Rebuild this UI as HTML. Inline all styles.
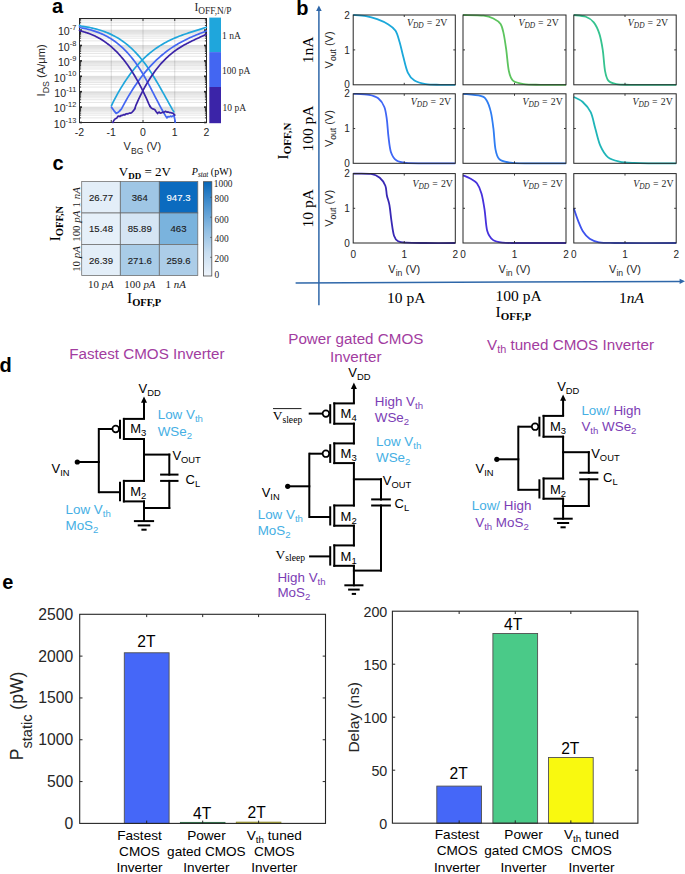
<!DOCTYPE html><html><head><meta charset="utf-8"><style>html,body{margin:0;padding:0;background:#fff;width:685px;height:874px;overflow:hidden}svg{display:block}</style></head><body><svg width="685" height="874" viewBox="0 0 685 874"><rect width="685" height="874" fill="#fff"/><text x="52" y="12.7" font-family="Liberation Sans" font-size="20" text-anchor="start" fill="#000" font-weight="bold">a</text>
<g stroke="#000" stroke-opacity="0.13" stroke-width="0.8">
<line x1="79.5" y1="122.5" x2="206.5" y2="122.5"/>
<line x1="79.5" y1="117.86" x2="206.5" y2="117.86"/>
<line x1="79.5" y1="115.15" x2="206.5" y2="115.15"/>
<line x1="79.5" y1="113.23" x2="206.5" y2="113.23"/>
<line x1="79.5" y1="111.74" x2="206.5" y2="111.74"/>
<line x1="79.5" y1="110.52" x2="206.5" y2="110.52"/>
<line x1="79.5" y1="109.49" x2="206.5" y2="109.49"/>
<line x1="79.5" y1="108.59" x2="206.5" y2="108.59"/>
<line x1="79.5" y1="107.8" x2="206.5" y2="107.8"/>
<line x1="79.5" y1="107.1" x2="206.5" y2="107.1"/>
<line x1="79.5" y1="102.46" x2="206.5" y2="102.46"/>
<line x1="79.5" y1="99.75" x2="206.5" y2="99.75"/>
<line x1="79.5" y1="97.83" x2="206.5" y2="97.83"/>
<line x1="79.5" y1="96.34" x2="206.5" y2="96.34"/>
<line x1="79.5" y1="95.12" x2="206.5" y2="95.12"/>
<line x1="79.5" y1="94.09" x2="206.5" y2="94.09"/>
<line x1="79.5" y1="93.19" x2="206.5" y2="93.19"/>
<line x1="79.5" y1="92.4" x2="206.5" y2="92.4"/>
<line x1="79.5" y1="91.7" x2="206.5" y2="91.7"/>
<line x1="79.5" y1="87.06" x2="206.5" y2="87.06"/>
<line x1="79.5" y1="84.35" x2="206.5" y2="84.35"/>
<line x1="79.5" y1="82.43" x2="206.5" y2="82.43"/>
<line x1="79.5" y1="80.94" x2="206.5" y2="80.94"/>
<line x1="79.5" y1="79.72" x2="206.5" y2="79.72"/>
<line x1="79.5" y1="78.69" x2="206.5" y2="78.69"/>
<line x1="79.5" y1="77.79" x2="206.5" y2="77.79"/>
<line x1="79.5" y1="77" x2="206.5" y2="77"/>
<line x1="79.5" y1="76.3" x2="206.5" y2="76.3"/>
<line x1="79.5" y1="71.66" x2="206.5" y2="71.66"/>
<line x1="79.5" y1="68.95" x2="206.5" y2="68.95"/>
<line x1="79.5" y1="67.03" x2="206.5" y2="67.03"/>
<line x1="79.5" y1="65.54" x2="206.5" y2="65.54"/>
<line x1="79.5" y1="64.32" x2="206.5" y2="64.32"/>
<line x1="79.5" y1="63.29" x2="206.5" y2="63.29"/>
<line x1="79.5" y1="62.39" x2="206.5" y2="62.39"/>
<line x1="79.5" y1="61.6" x2="206.5" y2="61.6"/>
<line x1="79.5" y1="60.9" x2="206.5" y2="60.9"/>
<line x1="79.5" y1="56.26" x2="206.5" y2="56.26"/>
<line x1="79.5" y1="53.55" x2="206.5" y2="53.55"/>
<line x1="79.5" y1="51.63" x2="206.5" y2="51.63"/>
<line x1="79.5" y1="50.14" x2="206.5" y2="50.14"/>
<line x1="79.5" y1="48.92" x2="206.5" y2="48.92"/>
<line x1="79.5" y1="47.89" x2="206.5" y2="47.89"/>
<line x1="79.5" y1="46.99" x2="206.5" y2="46.99"/>
<line x1="79.5" y1="46.2" x2="206.5" y2="46.2"/>
<line x1="79.5" y1="45.5" x2="206.5" y2="45.5"/>
<line x1="79.5" y1="40.86" x2="206.5" y2="40.86"/>
<line x1="79.5" y1="38.15" x2="206.5" y2="38.15"/>
<line x1="79.5" y1="36.23" x2="206.5" y2="36.23"/>
<line x1="79.5" y1="34.74" x2="206.5" y2="34.74"/>
<line x1="79.5" y1="33.52" x2="206.5" y2="33.52"/>
<line x1="79.5" y1="32.49" x2="206.5" y2="32.49"/>
<line x1="79.5" y1="31.59" x2="206.5" y2="31.59"/>
<line x1="79.5" y1="30.8" x2="206.5" y2="30.8"/>
<line x1="79.5" y1="30.1" x2="206.5" y2="30.1"/>
<line x1="79.5" y1="25.46" x2="206.5" y2="25.46"/>
<line x1="79.5" y1="22.75" x2="206.5" y2="22.75"/>
<line x1="79.5" y1="20.83" x2="206.5" y2="20.83"/>
<line x1="79.5" y1="19.34" x2="206.5" y2="19.34"/>
</g>
<line x1="111.25" y1="18.5" x2="111.25" y2="122.5" stroke="#000" stroke-width="0.7" stroke-opacity="0.18"/>
<line x1="143" y1="18.5" x2="143" y2="122.5" stroke="#000" stroke-width="0.7" stroke-opacity="0.18"/>
<line x1="174.75" y1="18.5" x2="174.75" y2="122.5" stroke="#000" stroke-width="0.7" stroke-opacity="0.18"/>
<g stroke="#262626" stroke-width="0.9">
<line x1="79.5" y1="122.5" x2="82" y2="122.5" stroke-width="1.6"/>
<line x1="206.5" y1="122.5" x2="204" y2="122.5" stroke-width="1.6"/>
<line x1="79.5" y1="117.86" x2="81.1" y2="117.86"/>
<line x1="206.5" y1="117.86" x2="204.9" y2="117.86"/>
<line x1="79.5" y1="115.15" x2="81.1" y2="115.15"/>
<line x1="206.5" y1="115.15" x2="204.9" y2="115.15"/>
<line x1="79.5" y1="113.23" x2="81.1" y2="113.23"/>
<line x1="206.5" y1="113.23" x2="204.9" y2="113.23"/>
<line x1="79.5" y1="111.74" x2="81.1" y2="111.74"/>
<line x1="206.5" y1="111.74" x2="204.9" y2="111.74"/>
<line x1="79.5" y1="110.52" x2="81.1" y2="110.52"/>
<line x1="206.5" y1="110.52" x2="204.9" y2="110.52"/>
<line x1="79.5" y1="109.49" x2="81.1" y2="109.49"/>
<line x1="206.5" y1="109.49" x2="204.9" y2="109.49"/>
<line x1="79.5" y1="108.59" x2="81.1" y2="108.59"/>
<line x1="206.5" y1="108.59" x2="204.9" y2="108.59"/>
<line x1="79.5" y1="107.8" x2="81.1" y2="107.8"/>
<line x1="206.5" y1="107.8" x2="204.9" y2="107.8"/>
<line x1="79.5" y1="107.1" x2="82" y2="107.1" stroke-width="1.6"/>
<line x1="206.5" y1="107.1" x2="204" y2="107.1" stroke-width="1.6"/>
<line x1="79.5" y1="102.46" x2="81.1" y2="102.46"/>
<line x1="206.5" y1="102.46" x2="204.9" y2="102.46"/>
<line x1="79.5" y1="99.75" x2="81.1" y2="99.75"/>
<line x1="206.5" y1="99.75" x2="204.9" y2="99.75"/>
<line x1="79.5" y1="97.83" x2="81.1" y2="97.83"/>
<line x1="206.5" y1="97.83" x2="204.9" y2="97.83"/>
<line x1="79.5" y1="96.34" x2="81.1" y2="96.34"/>
<line x1="206.5" y1="96.34" x2="204.9" y2="96.34"/>
<line x1="79.5" y1="95.12" x2="81.1" y2="95.12"/>
<line x1="206.5" y1="95.12" x2="204.9" y2="95.12"/>
<line x1="79.5" y1="94.09" x2="81.1" y2="94.09"/>
<line x1="206.5" y1="94.09" x2="204.9" y2="94.09"/>
<line x1="79.5" y1="93.19" x2="81.1" y2="93.19"/>
<line x1="206.5" y1="93.19" x2="204.9" y2="93.19"/>
<line x1="79.5" y1="92.4" x2="81.1" y2="92.4"/>
<line x1="206.5" y1="92.4" x2="204.9" y2="92.4"/>
<line x1="79.5" y1="91.7" x2="82" y2="91.7" stroke-width="1.6"/>
<line x1="206.5" y1="91.7" x2="204" y2="91.7" stroke-width="1.6"/>
<line x1="79.5" y1="87.06" x2="81.1" y2="87.06"/>
<line x1="206.5" y1="87.06" x2="204.9" y2="87.06"/>
<line x1="79.5" y1="84.35" x2="81.1" y2="84.35"/>
<line x1="206.5" y1="84.35" x2="204.9" y2="84.35"/>
<line x1="79.5" y1="82.43" x2="81.1" y2="82.43"/>
<line x1="206.5" y1="82.43" x2="204.9" y2="82.43"/>
<line x1="79.5" y1="80.94" x2="81.1" y2="80.94"/>
<line x1="206.5" y1="80.94" x2="204.9" y2="80.94"/>
<line x1="79.5" y1="79.72" x2="81.1" y2="79.72"/>
<line x1="206.5" y1="79.72" x2="204.9" y2="79.72"/>
<line x1="79.5" y1="78.69" x2="81.1" y2="78.69"/>
<line x1="206.5" y1="78.69" x2="204.9" y2="78.69"/>
<line x1="79.5" y1="77.79" x2="81.1" y2="77.79"/>
<line x1="206.5" y1="77.79" x2="204.9" y2="77.79"/>
<line x1="79.5" y1="77" x2="81.1" y2="77"/>
<line x1="206.5" y1="77" x2="204.9" y2="77"/>
<line x1="79.5" y1="76.3" x2="82" y2="76.3" stroke-width="1.6"/>
<line x1="206.5" y1="76.3" x2="204" y2="76.3" stroke-width="1.6"/>
<line x1="79.5" y1="71.66" x2="81.1" y2="71.66"/>
<line x1="206.5" y1="71.66" x2="204.9" y2="71.66"/>
<line x1="79.5" y1="68.95" x2="81.1" y2="68.95"/>
<line x1="206.5" y1="68.95" x2="204.9" y2="68.95"/>
<line x1="79.5" y1="67.03" x2="81.1" y2="67.03"/>
<line x1="206.5" y1="67.03" x2="204.9" y2="67.03"/>
<line x1="79.5" y1="65.54" x2="81.1" y2="65.54"/>
<line x1="206.5" y1="65.54" x2="204.9" y2="65.54"/>
<line x1="79.5" y1="64.32" x2="81.1" y2="64.32"/>
<line x1="206.5" y1="64.32" x2="204.9" y2="64.32"/>
<line x1="79.5" y1="63.29" x2="81.1" y2="63.29"/>
<line x1="206.5" y1="63.29" x2="204.9" y2="63.29"/>
<line x1="79.5" y1="62.39" x2="81.1" y2="62.39"/>
<line x1="206.5" y1="62.39" x2="204.9" y2="62.39"/>
<line x1="79.5" y1="61.6" x2="81.1" y2="61.6"/>
<line x1="206.5" y1="61.6" x2="204.9" y2="61.6"/>
<line x1="79.5" y1="60.9" x2="82" y2="60.9" stroke-width="1.6"/>
<line x1="206.5" y1="60.9" x2="204" y2="60.9" stroke-width="1.6"/>
<line x1="79.5" y1="56.26" x2="81.1" y2="56.26"/>
<line x1="206.5" y1="56.26" x2="204.9" y2="56.26"/>
<line x1="79.5" y1="53.55" x2="81.1" y2="53.55"/>
<line x1="206.5" y1="53.55" x2="204.9" y2="53.55"/>
<line x1="79.5" y1="51.63" x2="81.1" y2="51.63"/>
<line x1="206.5" y1="51.63" x2="204.9" y2="51.63"/>
<line x1="79.5" y1="50.14" x2="81.1" y2="50.14"/>
<line x1="206.5" y1="50.14" x2="204.9" y2="50.14"/>
<line x1="79.5" y1="48.92" x2="81.1" y2="48.92"/>
<line x1="206.5" y1="48.92" x2="204.9" y2="48.92"/>
<line x1="79.5" y1="47.89" x2="81.1" y2="47.89"/>
<line x1="206.5" y1="47.89" x2="204.9" y2="47.89"/>
<line x1="79.5" y1="46.99" x2="81.1" y2="46.99"/>
<line x1="206.5" y1="46.99" x2="204.9" y2="46.99"/>
<line x1="79.5" y1="46.2" x2="81.1" y2="46.2"/>
<line x1="206.5" y1="46.2" x2="204.9" y2="46.2"/>
<line x1="79.5" y1="45.5" x2="82" y2="45.5" stroke-width="1.6"/>
<line x1="206.5" y1="45.5" x2="204" y2="45.5" stroke-width="1.6"/>
<line x1="79.5" y1="40.86" x2="81.1" y2="40.86"/>
<line x1="206.5" y1="40.86" x2="204.9" y2="40.86"/>
<line x1="79.5" y1="38.15" x2="81.1" y2="38.15"/>
<line x1="206.5" y1="38.15" x2="204.9" y2="38.15"/>
<line x1="79.5" y1="36.23" x2="81.1" y2="36.23"/>
<line x1="206.5" y1="36.23" x2="204.9" y2="36.23"/>
<line x1="79.5" y1="34.74" x2="81.1" y2="34.74"/>
<line x1="206.5" y1="34.74" x2="204.9" y2="34.74"/>
<line x1="79.5" y1="33.52" x2="81.1" y2="33.52"/>
<line x1="206.5" y1="33.52" x2="204.9" y2="33.52"/>
<line x1="79.5" y1="32.49" x2="81.1" y2="32.49"/>
<line x1="206.5" y1="32.49" x2="204.9" y2="32.49"/>
<line x1="79.5" y1="31.59" x2="81.1" y2="31.59"/>
<line x1="206.5" y1="31.59" x2="204.9" y2="31.59"/>
<line x1="79.5" y1="30.8" x2="81.1" y2="30.8"/>
<line x1="206.5" y1="30.8" x2="204.9" y2="30.8"/>
<line x1="79.5" y1="30.1" x2="82" y2="30.1" stroke-width="1.6"/>
<line x1="206.5" y1="30.1" x2="204" y2="30.1" stroke-width="1.6"/>
<line x1="79.5" y1="25.46" x2="81.1" y2="25.46"/>
<line x1="206.5" y1="25.46" x2="204.9" y2="25.46"/>
<line x1="79.5" y1="22.75" x2="81.1" y2="22.75"/>
<line x1="206.5" y1="22.75" x2="204.9" y2="22.75"/>
<line x1="79.5" y1="20.83" x2="81.1" y2="20.83"/>
<line x1="206.5" y1="20.83" x2="204.9" y2="20.83"/>
<line x1="79.5" y1="19.34" x2="81.1" y2="19.34"/>
<line x1="206.5" y1="19.34" x2="204.9" y2="19.34"/>
<line x1="111.25" y1="18.5" x2="111.25" y2="21"/>
<line x1="111.25" y1="122.5" x2="111.25" y2="120"/>
<line x1="143" y1="18.5" x2="143" y2="21"/>
<line x1="143" y1="122.5" x2="143" y2="120"/>
<line x1="174.75" y1="18.5" x2="174.75" y2="21"/>
<line x1="174.75" y1="122.5" x2="174.75" y2="120"/>
</g>
<rect x="79.5" y="18.5" width="127" height="104" fill="none" stroke="#262626" stroke-width="1"/>
<text x="76.3" y="127.7" font-family="Liberation Sans" font-size="10.6" text-anchor="end" fill="#262626">10<tspan font-size="7.4" dy="-5.2">-13</tspan></text>
<text x="76.3" y="112.3" font-family="Liberation Sans" font-size="10.6" text-anchor="end" fill="#262626">10<tspan font-size="7.4" dy="-5.2">-12</tspan></text>
<text x="76.3" y="96.9" font-family="Liberation Sans" font-size="10.6" text-anchor="end" fill="#262626">10<tspan font-size="7.4" dy="-5.2">-11</tspan></text>
<text x="76.3" y="81.5" font-family="Liberation Sans" font-size="10.6" text-anchor="end" fill="#262626">10<tspan font-size="7.4" dy="-5.2">-10</tspan></text>
<text x="76.3" y="66.1" font-family="Liberation Sans" font-size="10.6" text-anchor="end" fill="#262626">10<tspan font-size="7.4" dy="-5.2">-9</tspan></text>
<text x="76.3" y="50.7" font-family="Liberation Sans" font-size="10.6" text-anchor="end" fill="#262626">10<tspan font-size="7.4" dy="-5.2">-8</tspan></text>
<text x="76.3" y="35.3" font-family="Liberation Sans" font-size="10.6" text-anchor="end" fill="#262626">10<tspan font-size="7.4" dy="-5.2">-7</tspan></text>
<text x="79.5" y="136" font-family="Liberation Sans" font-size="10.5" text-anchor="middle" fill="#262626">-2</text>
<text x="111.25" y="136" font-family="Liberation Sans" font-size="10.5" text-anchor="middle" fill="#262626">-1</text>
<text x="143" y="136" font-family="Liberation Sans" font-size="10.5" text-anchor="middle" fill="#262626">0</text>
<text x="174.75" y="136" font-family="Liberation Sans" font-size="10.5" text-anchor="middle" fill="#262626">1</text>
<text x="206.5" y="136" font-family="Liberation Sans" font-size="10.5" text-anchor="middle" fill="#262626">2</text>
<text x="123.6" y="149.8" font-family="Liberation Sans" font-size="11" fill="#262626">V<tspan font-size="8.6" dy="3.8">BG</tspan><tspan dy="-3.8"> (V)</tspan></text>
<text transform="translate(44.7,70.3) rotate(-90)" font-family="Liberation Sans" font-size="11.2" text-anchor="middle" fill="#262626">I<tspan font-size="8.8" dy="3.8">DS</tspan><tspan dy="-3.8"> (A/&#956;m)</tspan></text>
<g fill="none" stroke-width="1.7" stroke-linejoin="round" stroke-linecap="round">
<path d="M79.50,25.40 L81.10,26.03 L82.70,26.29 L84.30,26.55 L85.90,26.83 L87.50,27.12 L89.10,27.43 L90.70,27.76 L92.30,28.11 L93.90,28.48 L95.50,28.88 L97.10,29.30 L98.70,29.75 L100.30,30.23 L101.90,30.75 L103.50,31.29 L105.10,31.88 L106.70,32.50 L108.30,33.16 L109.90,33.86 L111.50,34.61 L113.10,35.40 L114.70,36.24 L116.30,37.13 L117.90,38.08 L119.50,39.07 L121.10,40.12 L122.70,41.23 L124.30,42.40 L125.90,43.62 L127.50,44.92 L129.10,46.27 L130.70,47.70 L132.30,49.19 L133.90,50.75 L135.50,52.39 L137.10,54.10 L138.70,55.89 L140.30,57.75 L141.90,59.70 L143.50,61.73 L145.10,63.84 L146.70,66.04 L148.30,68.33 L149.90,70.70 L151.50,73.16 L153.10,75.69 L154.70,78.29 L156.30,80.95 L157.90,83.67 L159.50,86.43 L161.10,89.23 L162.70,92.06 L164.30,94.92 L165.90,97.79 L167.50,100.68 L169.10,103.57 L170.70,106.46 L172.30,109.34 L173.90,111.90" stroke="#1fa6dc"/>
<path d="M111.50,105.70 L113.11,102.09 L114.71,99.02 L116.32,96.04 L117.93,93.16 L119.53,90.37 L121.14,87.68 L122.75,85.08 L124.35,82.57 L125.96,80.14 L127.57,77.80 L129.17,75.55 L130.78,73.37 L132.39,71.27 L133.99,69.25 L135.60,67.31 L137.21,65.44 L138.82,63.64 L140.42,61.92 L142.03,60.25 L143.64,58.66 L145.24,57.13 L146.85,55.66 L148.46,54.25 L150.06,52.90 L151.67,51.61 L153.28,50.37 L154.88,49.18 L156.49,48.04 L158.10,46.95 L159.70,45.91 L161.31,44.91 L162.92,43.96 L164.52,43.04 L166.13,42.17 L167.74,41.33 L169.34,40.53 L170.95,39.76 L172.56,39.02 L174.16,38.31 L175.77,37.62 L177.38,36.97 L178.98,36.33 L180.59,35.72 L182.20,35.13 L183.81,34.55 L185.41,33.99 L187.02,33.44 L188.63,32.91 L190.23,32.39 L191.84,31.87 L193.45,31.36 L195.05,30.85 L196.66,30.35 L198.27,29.84 L199.87,29.34 L201.48,28.83 L203.09,28.32 L204.69,27.79 L206.30,27.40" stroke="#1fa6dc"/>
<path d="M79.50,26.90 L80.98,27.76 L82.46,28.06 L83.94,28.37 L85.43,28.69 L86.91,29.04 L88.39,29.40 L89.87,29.78 L91.35,30.19 L92.83,30.62 L94.31,31.08 L95.79,31.58 L97.28,32.10 L98.76,32.65 L100.24,33.24 L101.72,33.87 L103.20,34.54 L104.68,35.25 L106.16,36.00 L107.65,36.80 L109.13,37.64 L110.61,38.53 L112.09,39.48 L113.57,40.47 L115.05,41.53 L116.53,42.63 L118.02,43.80 L119.50,45.03 L120.98,46.32 L122.46,47.67 L123.94,49.09 L125.42,50.58 L126.90,52.14 L128.38,53.77 L129.87,55.48 L131.35,57.26 L132.83,59.12 L134.31,61.06 L135.79,63.09 L137.27,65.19 L138.75,67.39 L140.24,69.67 L141.72,72.04 L143.20,74.50 L144.68,77.05 L146.16,79.69 L147.64,82.39 L149.12,85.16 L150.61,87.97 L152.09,90.81 L153.57,93.67 L155.05,96.53 L156.53,99.39 L158.01,102.23 L159.49,105.04 L160.97,107.80 L162.46,110.50 L163.94,113.13 L165.42,115.68 L166.90,117.70" stroke="#4366f2"/>
<path d="M166.9,117.7 L168,116.6 L169.3,116.9 L170.5,116.1 L171.6,116.7 L172.8,115.9 L173.9,115.4 L175.1,120.6 L175.2,122.4" stroke="#4366f2"/>
<path d="M119.90,110.70 L121.36,109.13 L122.83,106.34 L124.29,103.63 L125.76,100.99 L127.22,98.42 L128.69,95.91 L130.15,93.48 L131.62,91.11 L133.08,88.81 L134.54,86.57 L136.01,84.40 L137.47,82.29 L138.94,80.24 L140.40,78.25 L141.87,76.32 L143.33,74.44 L144.79,72.62 L146.26,70.86 L147.72,69.15 L149.19,67.49 L150.65,65.89 L152.12,64.33 L153.58,62.82 L155.05,61.36 L156.51,59.95 L157.97,58.59 L159.44,57.26 L160.90,55.98 L162.37,54.75 L163.83,53.55 L165.30,52.39 L166.76,51.27 L168.23,50.19 L169.69,49.14 L171.15,48.13 L172.62,47.15 L174.08,46.20 L175.55,45.29 L177.01,44.40 L178.48,43.55 L179.94,42.72 L181.41,41.91 L182.87,41.14 L184.33,40.38 L185.80,39.65 L187.26,38.94 L188.73,38.25 L190.19,37.58 L191.66,36.92 L193.12,36.29 L194.58,35.67 L196.05,35.06 L197.51,34.47 L198.98,33.88 L200.44,33.31 L201.91,32.75 L203.37,32.20 L204.84,31.65 L206.30,30.90" stroke="#4366f2"/>
<path d="M111.5,107.2 L113.9,110.6 L116.2,113.4 L118.2,112.3 L119.9,110.7" stroke="#4366f2"/>
<path d="M79.50,30.40 L80.69,30.94 L81.89,31.26 L83.08,31.59 L84.28,31.95 L85.47,32.32 L86.67,32.71 L87.86,33.12 L89.06,33.55 L90.25,34.01 L91.45,34.49 L92.64,35.00 L93.84,35.53 L95.03,36.08 L96.23,36.67 L97.42,37.28 L98.62,37.92 L99.81,38.60 L101.01,39.30 L102.20,40.03 L103.40,40.80 L104.59,41.61 L105.79,42.44 L106.98,43.32 L108.18,44.23 L109.37,45.18 L110.57,46.16 L111.76,47.19 L112.96,48.26 L114.15,49.36 L115.35,50.52 L116.54,51.71 L117.74,52.95 L118.93,54.23 L120.13,55.56 L121.32,56.94 L122.52,58.37 L123.71,59.84 L124.91,61.36 L126.10,62.94 L127.30,64.57 L128.49,66.25 L129.69,67.98 L130.88,69.77 L132.08,71.61 L133.27,73.51 L134.47,75.47 L135.66,77.49 L136.86,79.56 L138.05,81.70 L139.25,83.90 L140.44,86.15 L141.64,88.48 L142.83,90.86 L144.03,93.32 L145.22,95.83 L146.42,98.42 L147.61,101.07 L148.81,103.79 L150.00,106.30" stroke="#3b24a8"/>
<path d="M150,106.3 L151.3,108.1 L152.9,108.9 L154.7,109.5 L156.2,111.8 L157.6,113.6 L158.5,112.3 L159.3,112.2 L160.2,113.1 L161.1,113 L162.5,112.2 L163.8,112.4 L165.5,111.3 L166.8,112.1 L168.1,111.9 L169.5,112.6 L171,112.7 L172.3,113.1 L173.4,113.6 L174.8,115.1" stroke="#3b24a8"/>
<path d="M112.9,122.4 L113.8,120.5 L114.9,119.1 L116,118.4 L116.9,117.9 L117.8,116.4 L118.9,116.1 L120,116.6 L120.9,115.4 L122,115.6 L122.9,115.1 L124,114.6 L124.9,114.9 L126,113.9 L126.8,113.7 L128,113.9 L129.2,113.1 L130.5,113.2 L131.8,112.5 L133.3,110.9 L134.8,108.7" stroke="#3b24a8"/>
<path d="M134.80,108.70 L136.01,105.10 L137.22,102.37 L138.44,99.73 L139.65,97.17 L140.86,94.69 L142.07,92.29 L143.28,89.96 L144.49,87.71 L145.71,85.54 L146.92,83.43 L148.13,81.39 L149.34,79.43 L150.55,77.53 L151.77,75.69 L152.98,73.92 L154.19,72.21 L155.40,70.56 L156.61,68.97 L157.83,67.43 L159.04,65.95 L160.25,64.53 L161.46,63.15 L162.67,61.83 L163.88,60.56 L165.10,59.33 L166.31,58.15 L167.52,57.02 L168.73,55.92 L169.94,54.87 L171.16,53.86 L172.37,52.88 L173.58,51.94 L174.79,51.03 L176.00,50.16 L177.22,49.32 L178.43,48.51 L179.64,47.72 L180.85,46.96 L182.06,46.23 L183.27,45.52 L184.49,44.83 L185.70,44.16 L186.91,43.51 L188.12,42.88 L189.33,42.26 L190.55,41.65 L191.76,41.06 L192.97,40.48 L194.18,39.90 L195.39,39.33 L196.61,38.77 L197.82,38.21 L199.03,37.65 L200.24,37.10 L201.45,36.54 L202.66,35.98 L203.88,35.41 L205.09,34.84 L206.30,34.40" stroke="#3b24a8"/>
</g>
<rect x="209.3" y="17.6" width="11.7" height="34.5" fill="#1fa6dc" stroke="none" stroke-width="1"/>
<rect x="209.3" y="52.1" width="11.7" height="34.9" fill="#4366f2" stroke="none" stroke-width="1"/>
<rect x="209.3" y="87" width="11.7" height="36.2" fill="#3b24a8" stroke="none" stroke-width="1"/>
<text x="222" y="38.8" font-family="Liberation Serif" font-size="9.5" fill="#262626">1 nA</text>
<text x="222" y="73.8" font-family="Liberation Serif" font-size="9.5" fill="#262626">100 pA</text>
<text x="222.5" y="110.5" font-family="Liberation Serif" font-size="9.5" fill="#262626">10 pA</text>
<text x="194.5" y="11" font-family="Liberation Serif" font-size="11.5" fill="#262626">I<tspan font-size="9.3" dy="2.6">OFF,N/P</tspan></text>
<text x="296.2" y="14.7" font-family="Liberation Sans" font-size="20" text-anchor="start" fill="#000" font-weight="bold">b</text>
<path d="M353.2,15 C355.33,15.17 361.96,15.35 365.96,16.05 C369.96,16.74 373.45,17.79 377.19,19.19 C380.94,20.58 385.36,22.5 388.42,24.42 C391.49,26.34 393.7,27.74 395.57,30.7 C397.44,33.67 398.38,37.92 399.66,42.22 C400.93,46.53 401.87,51.47 403.23,56.53 C404.59,61.59 405.95,68.57 407.82,72.58 C409.7,76.6 411.48,78.69 414.46,80.61 C417.44,82.53 421.44,83.4 425.69,84.1 C429.95,84.8 435.05,84.68 439.99,84.8 C444.92,84.92 452.75,84.8 455.3,84.8" fill="none" stroke="#1ba8da" stroke-width="1.8" stroke-linejoin="round"/>
<rect x="353.2" y="15" width="102.1" height="69.8" fill="none" stroke="#262626" stroke-width="1"/>
<g stroke="#262626" stroke-width="0.9">
<line x1="404.25" y1="15" x2="404.25" y2="17"/><line x1="404.25" y1="84.8" x2="404.25" y2="82.8"/>
<line x1="353.2" y1="49.9" x2="355.2" y2="49.9"/><line x1="455.3" y1="49.9" x2="453.3" y2="49.9"/>
</g>
<text x="447.4" y="26.2" font-family="Liberation Serif" font-size="9.8" text-anchor="end" fill="#262626"><tspan font-style="italic">V</tspan><tspan font-size="7.4" dy="1.9" font-style="italic">DD</tspan><tspan dy="-1.9" dx="3">=</tspan><tspan dx="3.2">2V</tspan></text>
<text x="349.8" y="18.6" font-family="Liberation Sans" font-size="10" text-anchor="end" fill="#262626">2</text>
<text x="349.8" y="53.5" font-family="Liberation Sans" font-size="10" text-anchor="end" fill="#262626">1</text>
<text x="349.8" y="88.4" font-family="Liberation Sans" font-size="10" text-anchor="end" fill="#262626">0</text>
<text transform="translate(332.7,49.9) rotate(-90)" font-family="Liberation Sans" font-size="11" text-anchor="middle" fill="#262626">V<tspan font-size="8.6" dy="3.7">out</tspan><tspan dy="-3.7"> (V)</tspan></text>
<path d="M463,15 C466.43,15.12 478.54,15.12 483.6,15.7 C488.66,16.28 490.55,17.09 493.38,18.49 C496.22,19.89 498.88,21.51 500.6,24.07 C502.31,26.63 502.74,29.54 503.69,33.85 C504.63,38.15 505.4,43.73 506.26,49.9 C507.12,56.07 507.72,65.72 508.83,70.84 C509.95,75.96 510.47,78.4 512.96,80.61 C515.44,82.82 519.22,83.4 523.77,84.1 C528.32,84.8 533.21,84.68 540.25,84.8 C547.29,84.92 561.71,84.8 566,84.8" fill="none" stroke="#5cc45e" stroke-width="1.8" stroke-linejoin="round"/>
<rect x="463" y="15" width="103" height="69.8" fill="none" stroke="#262626" stroke-width="1"/>
<g stroke="#262626" stroke-width="0.9">
<line x1="514.5" y1="15" x2="514.5" y2="17"/><line x1="514.5" y1="84.8" x2="514.5" y2="82.8"/>
<line x1="463" y1="49.9" x2="465" y2="49.9"/><line x1="566" y1="49.9" x2="564" y2="49.9"/>
</g>
<text x="558.8" y="26.2" font-family="Liberation Serif" font-size="9.8" text-anchor="end" fill="#262626"><tspan font-style="italic">V</tspan><tspan font-size="7.4" dy="1.9" font-style="italic">DD</tspan><tspan dy="-1.9" dx="3">=</tspan><tspan dx="3.2">2V</tspan></text>
<path d="M573.8,15 C575.81,15.29 582.5,15.52 585.83,16.75 C589.16,17.97 591.51,19.48 593.77,22.33 C596.03,25.18 597.91,29.25 599.4,33.85 C600.89,38.44 601.79,43.73 602.73,49.9 C603.67,56.07 604.09,65.72 605.03,70.84 C605.97,75.96 606.48,78.4 608.36,80.61 C610.24,82.82 612.67,83.4 616.3,84.1 C619.92,84.8 620.14,84.68 630.12,84.8 C640.1,84.92 668.52,84.8 676.2,84.8" fill="none" stroke="#35c38f" stroke-width="1.8" stroke-linejoin="round"/>
<rect x="573.8" y="15" width="102.4" height="69.8" fill="none" stroke="#262626" stroke-width="1"/>
<g stroke="#262626" stroke-width="0.9">
<line x1="625" y1="15" x2="625" y2="17"/><line x1="625" y1="84.8" x2="625" y2="82.8"/>
<line x1="573.8" y1="49.9" x2="575.8" y2="49.9"/><line x1="676.2" y1="49.9" x2="674.2" y2="49.9"/>
</g>
<text x="668.2" y="26.2" font-family="Liberation Serif" font-size="9.8" text-anchor="end" fill="#262626"><tspan font-style="italic">V</tspan><tspan font-size="7.4" dy="1.9" font-style="italic">DD</tspan><tspan dy="-1.9" dx="3">=</tspan><tspan dx="3.2">2V</tspan></text>
<path d="M353.2,93.8 C355.84,93.97 364.86,94.09 369.03,94.84 C373.19,95.6 375.66,96.29 378.21,98.32 C380.77,100.34 382.89,103.41 384.34,107 C385.79,110.6 386.21,115 386.89,119.86 C387.57,124.73 387.74,130.81 388.42,136.19 C389.11,141.58 389.62,148.13 390.98,152.18 C392.34,156.23 394.04,158.72 396.59,160.52 C399.14,162.32 401.61,162.49 406.29,162.95 C410.97,163.42 416.5,163.24 424.67,163.3 C432.84,163.36 450.19,163.3 455.3,163.3" fill="none" stroke="#3f66f5" stroke-width="1.8" stroke-linejoin="round"/>
<rect x="353.2" y="93.8" width="102.1" height="69.5" fill="none" stroke="#262626" stroke-width="1"/>
<g stroke="#262626" stroke-width="0.9">
<line x1="404.25" y1="93.8" x2="404.25" y2="95.8"/><line x1="404.25" y1="163.3" x2="404.25" y2="161.3"/>
<line x1="353.2" y1="128.55" x2="355.2" y2="128.55"/><line x1="455.3" y1="128.55" x2="453.3" y2="128.55"/>
</g>
<text x="451.2" y="105" font-family="Liberation Serif" font-size="9.8" text-anchor="end" fill="#262626"><tspan font-style="italic">V</tspan><tspan font-size="7.4" dy="1.9" font-style="italic">DD</tspan><tspan dy="-1.9" dx="3">=</tspan><tspan dx="3.2">2V</tspan></text>
<text x="349.8" y="97.4" font-family="Liberation Sans" font-size="10" text-anchor="end" fill="#262626">2</text>
<text x="349.8" y="132.15" font-family="Liberation Sans" font-size="10" text-anchor="end" fill="#262626">1</text>
<text x="349.8" y="166.9" font-family="Liberation Sans" font-size="10" text-anchor="end" fill="#262626">0</text>
<text transform="translate(332.7,128.55) rotate(-90)" font-family="Liberation Sans" font-size="11" text-anchor="middle" fill="#262626">V<tspan font-size="8.6" dy="3.7">out</tspan><tspan dy="-3.7"> (V)</tspan></text>
<path d="M463,93.8 C465.92,94.15 476.56,94.78 480.51,95.89 C484.46,96.99 484.97,97.74 486.69,100.4 C488.41,103.07 489.69,107.24 490.81,111.87 C491.93,116.5 492.61,122.01 493.38,128.2 C494.16,134.4 494.5,143.96 495.44,149.05 C496.39,154.15 496.99,156.58 499.05,158.78 C501.11,160.98 503.51,161.5 507.81,162.26 C512.1,163.01 515.1,163.13 524.8,163.3 C534.5,163.47 559.13,163.3 566,163.3" fill="none" stroke="#2f7df2" stroke-width="1.8" stroke-linejoin="round"/>
<rect x="463" y="93.8" width="103" height="69.5" fill="none" stroke="#262626" stroke-width="1"/>
<g stroke="#262626" stroke-width="0.9">
<line x1="514.5" y1="93.8" x2="514.5" y2="95.8"/><line x1="514.5" y1="163.3" x2="514.5" y2="161.3"/>
<line x1="463" y1="128.55" x2="465" y2="128.55"/><line x1="566" y1="128.55" x2="564" y2="128.55"/>
</g>
<text x="562.8" y="105" font-family="Liberation Serif" font-size="9.8" text-anchor="end" fill="#262626"><tspan font-style="italic">V</tspan><tspan font-size="7.4" dy="1.9" font-style="italic">DD</tspan><tspan dy="-1.9" dx="3">=</tspan><tspan dx="3.2">2V</tspan></text>
<path d="M573.8,96.93 C575.25,97.74 579.69,99.24 582.5,101.79 C585.32,104.34 588.56,107.76 590.7,112.22 C592.83,116.68 593.68,122.93 595.3,128.55 C596.93,134.17 598.29,141.12 600.42,145.93 C602.56,150.73 604.95,154.79 608.1,157.39 C611.26,160 615.02,160.64 619.37,161.56 C623.72,162.49 629.01,162.66 634.22,162.95 C639.42,163.24 643.6,163.24 650.6,163.3 C657.6,163.36 671.93,163.3 676.2,163.3" fill="none" stroke="#1fb5b8" stroke-width="1.8" stroke-linejoin="round"/>
<rect x="573.8" y="93.8" width="102.4" height="69.5" fill="none" stroke="#262626" stroke-width="1"/>
<g stroke="#262626" stroke-width="0.9">
<line x1="625" y1="93.8" x2="625" y2="95.8"/><line x1="625" y1="163.3" x2="625" y2="161.3"/>
<line x1="573.8" y1="128.55" x2="575.8" y2="128.55"/><line x1="676.2" y1="128.55" x2="674.2" y2="128.55"/>
</g>
<text x="672.8" y="105" font-family="Liberation Serif" font-size="9.8" text-anchor="end" fill="#262626"><tspan font-style="italic">V</tspan><tspan font-size="7.4" dy="1.9" font-style="italic">DD</tspan><tspan dy="-1.9" dx="3">=</tspan><tspan dx="3.2">2V</tspan></text>
<path d="M353.2,173.6 C356.18,173.66 366.64,173.25 371.07,173.95 C375.49,174.64 377.36,175.8 379.75,177.76 C382.13,179.73 384.17,182.8 385.36,185.75 C386.55,188.69 386.21,192.22 386.89,195.46 C387.57,198.7 388.68,200.9 389.45,205.18 C390.21,209.46 390.72,216.05 391.49,221.14 C392.25,226.23 392.93,232.36 394.04,235.71 C395.15,239.07 396.08,240.11 398.12,241.26 C400.17,242.42 401.87,242.36 406.29,242.65 C410.72,242.94 416.5,242.94 424.67,243 C432.84,243.06 450.19,243 455.3,243" fill="none" stroke="#3828b4" stroke-width="1.8" stroke-linejoin="round"/>
<rect x="353.2" y="173.6" width="102.1" height="69.4" fill="none" stroke="#262626" stroke-width="1"/>
<g stroke="#262626" stroke-width="0.9">
<line x1="404.25" y1="173.6" x2="404.25" y2="175.6"/><line x1="404.25" y1="243" x2="404.25" y2="241"/>
<line x1="353.2" y1="208.3" x2="355.2" y2="208.3"/><line x1="455.3" y1="208.3" x2="453.3" y2="208.3"/>
</g>
<text x="452.9" y="187.2" font-family="Liberation Serif" font-size="9.8" text-anchor="end" fill="#262626"><tspan font-style="italic">V</tspan><tspan font-size="7.4" dy="1.9" font-style="italic">DD</tspan><tspan dy="-1.9" dx="3">=</tspan><tspan dx="3.2">2V</tspan></text>
<text x="349.8" y="177.2" font-family="Liberation Sans" font-size="10" text-anchor="end" fill="#262626">2</text>
<text x="349.8" y="211.9" font-family="Liberation Sans" font-size="10" text-anchor="end" fill="#262626">1</text>
<text x="349.8" y="246.6" font-family="Liberation Sans" font-size="10" text-anchor="end" fill="#262626">0</text>
<text transform="translate(332.7,208.3) rotate(-90)" font-family="Liberation Sans" font-size="11" text-anchor="middle" fill="#262626">V<tspan font-size="8.6" dy="3.7">out</tspan><tspan dy="-3.7"> (V)</tspan></text>
<text x="353.2" y="258" font-family="Liberation Sans" font-size="10" text-anchor="middle" fill="#262626">0</text>
<text x="404.25" y="258" font-family="Liberation Sans" font-size="10" text-anchor="middle" fill="#262626">1</text>
<text x="455.3" y="258" font-family="Liberation Sans" font-size="10" text-anchor="middle" fill="#262626">2</text>
<text x="404.25" y="272.6" font-family="Liberation Sans" font-size="11" text-anchor="middle" fill="#262626">V<tspan font-size="8.6" dy="3.7">in</tspan><tspan dy="-3.7"> (V)</tspan></text>
<path d="M463,175.33 C464.2,175.86 467.89,177.13 470.21,178.46 C472.53,179.79 475.02,180.77 476.9,183.32 C478.79,185.86 480.25,189.27 481.54,193.73 C482.83,198.18 483.69,203.85 484.63,210.03 C485.57,216.22 485.83,225.88 487.2,230.85 C488.58,235.83 490.3,237.91 492.87,239.88 C495.44,241.84 498.19,242.13 502.65,242.65 C507.12,243.17 509.09,242.94 519.65,243 C530.21,243.06 558.27,243 566,243" fill="none" stroke="#4631dc" stroke-width="1.8" stroke-linejoin="round"/>
<rect x="463" y="173.6" width="103" height="69.4" fill="none" stroke="#262626" stroke-width="1"/>
<g stroke="#262626" stroke-width="0.9">
<line x1="514.5" y1="173.6" x2="514.5" y2="175.6"/><line x1="514.5" y1="243" x2="514.5" y2="241"/>
<line x1="463" y1="208.3" x2="465" y2="208.3"/><line x1="566" y1="208.3" x2="564" y2="208.3"/>
</g>
<text x="562.8" y="187.2" font-family="Liberation Serif" font-size="9.8" text-anchor="end" fill="#262626"><tspan font-style="italic">V</tspan><tspan font-size="7.4" dy="1.9" font-style="italic">DD</tspan><tspan dy="-1.9" dx="3">=</tspan><tspan dx="3.2">2V</tspan></text>
<text x="463" y="258" font-family="Liberation Sans" font-size="10" text-anchor="middle" fill="#262626">0</text>
<text x="514.5" y="258" font-family="Liberation Sans" font-size="10" text-anchor="middle" fill="#262626">1</text>
<text x="566" y="258" font-family="Liberation Sans" font-size="10" text-anchor="middle" fill="#262626">2</text>
<text x="514.5" y="272.6" font-family="Liberation Sans" font-size="11" text-anchor="middle" fill="#262626">V<tspan font-size="8.6" dy="3.7">in</tspan><tspan dy="-3.7"> (V)</tspan></text>
<path d="M573.8,208.3 C574.55,210.44 576.74,217.26 578.28,221.14 C579.82,225.01 581.12,228.6 583.02,231.55 C584.91,234.5 587.03,237.04 589.67,238.84 C592.32,240.63 594.71,241.61 598.89,242.31 C603.07,243 601.87,242.88 614.76,243 C627.65,243.12 665.96,243 676.2,243" fill="none" stroke="#3d52ee" stroke-width="1.8" stroke-linejoin="round"/>
<rect x="573.8" y="173.6" width="102.4" height="69.4" fill="none" stroke="#262626" stroke-width="1"/>
<g stroke="#262626" stroke-width="0.9">
<line x1="625" y1="173.6" x2="625" y2="175.6"/><line x1="625" y1="243" x2="625" y2="241"/>
<line x1="573.8" y1="208.3" x2="575.8" y2="208.3"/><line x1="676.2" y1="208.3" x2="674.2" y2="208.3"/>
</g>
<text x="673.6" y="187.2" font-family="Liberation Serif" font-size="9.8" text-anchor="end" fill="#262626"><tspan font-style="italic">V</tspan><tspan font-size="7.4" dy="1.9" font-style="italic">DD</tspan><tspan dy="-1.9" dx="3">=</tspan><tspan dx="3.2">2V</tspan></text>
<text x="573.8" y="258" font-family="Liberation Sans" font-size="10" text-anchor="middle" fill="#262626">0</text>
<text x="625" y="258" font-family="Liberation Sans" font-size="10" text-anchor="middle" fill="#262626">1</text>
<text x="676.2" y="258" font-family="Liberation Sans" font-size="10" text-anchor="middle" fill="#262626">2</text>
<text x="625" y="272.6" font-family="Liberation Sans" font-size="11" text-anchor="middle" fill="#262626">V<tspan font-size="8.6" dy="3.7">in</tspan><tspan dy="-3.7"> (V)</tspan></text>
<text transform="translate(312.8,49.9) rotate(-90)" font-family="Liberation Serif" font-size="15.5" text-anchor="middle" fill="#000">1nA</text>
<text transform="translate(312.8,128.55) rotate(-90)" font-family="Liberation Serif" font-size="15.5" text-anchor="middle" fill="#000">100 pA</text>
<text transform="translate(312.8,208.3) rotate(-90)" font-family="Liberation Serif" font-size="15.5" text-anchor="middle" fill="#000">10 pA</text>
<text transform="translate(287.9,141) rotate(-90)" font-family="Liberation Serif" font-size="15.5" text-anchor="middle" fill="#000">I<tspan font-size="11" dy="3" font-weight="bold">OFF,N</tspan></text>
<line x1="318.9" y1="305.3" x2="318.9" y2="10" stroke="#2e67a9" stroke-width="1.5"/>
<path d="M318.9,5.6 L316.1,11 L321.7,11 Z" fill="#2e67a9"/>
<line x1="295.6" y1="282.9" x2="680" y2="281.4" stroke="#2e67a9" stroke-width="1.5"/>
<path d="M685,281.3 L679.6,278.7 L679.6,284 Z" fill="#2e67a9"/>
<text x="387" y="303" font-family="Liberation Serif" font-size="15.5" text-anchor="start" fill="#000">10 pA</text>
<text x="495.6" y="301" font-family="Liberation Serif" font-size="15.5" text-anchor="start" fill="#000">100 pA</text>
<text x="495.6" y="317" font-family="Liberation Serif" font-size="15.5">I<tspan font-size="11" dy="3" font-weight="bold">OFF,P</tspan></text>
<text x="619" y="302.5" font-family="Liberation Serif" font-size="15.5">1<tspan font-style="italic">nA</tspan></text>
<text x="52.5" y="170.2" font-family="Liberation Sans" font-size="20" text-anchor="start" fill="#000" font-weight="bold">c</text>
<rect x="81.7" y="181.6" width="38.6" height="31.4" fill="#e3eef8" stroke="#6a6a6a" stroke-width="0.75"/>
<text x="101" y="200.8" font-family="Liberation Sans" font-size="9.6" text-anchor="middle" fill="#1a1a1a" stroke="#1a1a1a" stroke-width="0.12">26.77</text>
<rect x="120.3" y="181.6" width="39" height="31.4" fill="#9fc6e5" stroke="#6a6a6a" stroke-width="0.75"/>
<text x="139.8" y="200.8" font-family="Liberation Sans" font-size="9.6" text-anchor="middle" fill="#1a1a1a" stroke="#1a1a1a" stroke-width="0.12">364</text>
<rect x="159.3" y="181.6" width="38.5" height="31.4" fill="#0b6bbf" stroke="#6a6a6a" stroke-width="0.75"/>
<text x="178.55" y="200.8" font-family="Liberation Sans" font-size="9.6" text-anchor="middle" fill="#fff" stroke="#fff" stroke-width="0.12">947.3</text>
<rect x="81.7" y="213" width="38.6" height="31.4" fill="#e6f0f9" stroke="#6a6a6a" stroke-width="0.75"/>
<text x="101" y="232.2" font-family="Liberation Sans" font-size="9.6" text-anchor="middle" fill="#1a1a1a" stroke="#1a1a1a" stroke-width="0.12">15.48</text>
<rect x="120.3" y="213" width="39" height="31.4" fill="#d5e5f4" stroke="#6a6a6a" stroke-width="0.75"/>
<text x="139.8" y="232.2" font-family="Liberation Sans" font-size="9.6" text-anchor="middle" fill="#1a1a1a" stroke="#1a1a1a" stroke-width="0.12">85.89</text>
<rect x="159.3" y="213" width="38.5" height="31.4" fill="#7ab3dd" stroke="#6a6a6a" stroke-width="0.75"/>
<text x="178.55" y="232.2" font-family="Liberation Sans" font-size="9.6" text-anchor="middle" fill="#1a1a1a" stroke="#1a1a1a" stroke-width="0.12">463</text>
<rect x="81.7" y="244.4" width="38.6" height="31.2" fill="#e3eef8" stroke="#6a6a6a" stroke-width="0.75"/>
<text x="101" y="263.5" font-family="Liberation Sans" font-size="9.6" text-anchor="middle" fill="#1a1a1a" stroke="#1a1a1a" stroke-width="0.12">26.39</text>
<rect x="120.3" y="244.4" width="39" height="31.2" fill="#a9cce7" stroke="#6a6a6a" stroke-width="0.75"/>
<text x="139.8" y="263.5" font-family="Liberation Sans" font-size="9.6" text-anchor="middle" fill="#1a1a1a" stroke="#1a1a1a" stroke-width="0.12">271.6</text>
<rect x="159.3" y="244.4" width="38.5" height="31.2" fill="#accde8" stroke="#6a6a6a" stroke-width="0.75"/>
<text x="178.55" y="263.5" font-family="Liberation Sans" font-size="9.6" text-anchor="middle" fill="#1a1a1a" stroke="#1a1a1a" stroke-width="0.12">259.6</text>
<defs><linearGradient id="cbc" x1="0" y1="1" x2="0" y2="0"><stop offset="0" stop-color="#eef4fb"/><stop offset="0.25" stop-color="#c7ddf0"/><stop offset="0.5" stop-color="#8dbce2"/><stop offset="0.75" stop-color="#4b93d0"/><stop offset="1" stop-color="#0766b8"/></linearGradient></defs>
<rect x="203.4" y="181.7" width="8.4" height="94.3" fill="url(#cbc)" stroke="#4d4d4d" stroke-width="0.8"/>
<text x="213.8" y="187.4" font-family="Liberation Serif" font-size="9.4" text-anchor="start" fill="#262626">1000</text>
<text x="214.6" y="201.8" font-family="Liberation Serif" font-size="9.4" text-anchor="start" fill="#262626">800</text>
<text x="214.6" y="222.5" font-family="Liberation Serif" font-size="9.4" text-anchor="start" fill="#262626">600</text>
<text x="214.6" y="241.7" font-family="Liberation Serif" font-size="9.4" text-anchor="start" fill="#262626">400</text>
<text x="214.6" y="262.3" font-family="Liberation Serif" font-size="9.4" text-anchor="start" fill="#262626">200</text>
<text x="214.6" y="278.1" font-family="Liberation Serif" font-size="9.4" text-anchor="start" fill="#262626">0</text>
<line x1="210.2" y1="197.3" x2="211.8" y2="197.3" stroke="#4d4d4d" stroke-width="0.8"/>
<line x1="210.2" y1="217.2" x2="211.8" y2="217.2" stroke="#4d4d4d" stroke-width="0.8"/>
<line x1="210.2" y1="237.4" x2="211.8" y2="237.4" stroke="#4d4d4d" stroke-width="0.8"/>
<line x1="210.2" y1="257.3" x2="211.8" y2="257.3" stroke="#4d4d4d" stroke-width="0.8"/>
<text x="118.8" y="175.7" font-family="Liberation Serif" font-size="13" fill="#000">V<tspan font-size="9" dy="2.8" font-weight="bold">DD</tspan><tspan dy="-2.8"> = 2V</tspan></text>
<text x="191.8" y="174.5" font-family="Liberation Serif" font-size="10" fill="#000"><tspan font-style="italic">P</tspan><tspan font-size="7.2" dy="2" font-style="italic">stat</tspan><tspan dy="-2"> (pW)</tspan></text>
<text transform="translate(79.5,197.3) rotate(-90)" font-family="Liberation Serif" font-size="10.9" text-anchor="middle" fill="#1a1a1a">1 <tspan font-style="italic">nA</tspan></text>
<text transform="translate(79.5,226.2) rotate(-90)" font-family="Liberation Serif" font-size="10.9" text-anchor="middle" fill="#1a1a1a">100 <tspan font-style="italic">pA</tspan></text>
<text transform="translate(79.5,259) rotate(-90)" font-family="Liberation Serif" font-size="10.9" text-anchor="middle" fill="#1a1a1a">10 <tspan font-style="italic">pA</tspan></text>
<text transform="translate(60.1,223.6) rotate(-90)" font-family="Liberation Serif" font-size="15.5" text-anchor="middle" fill="#000">I<tspan font-size="10.5" dy="3" font-weight="bold">OFF,N</tspan></text>
<text x="100.9" y="288.2" font-family="Liberation Serif" font-size="10.9" text-anchor="middle" fill="#1a1a1a">10 <tspan font-style="italic">pA</tspan></text>
<text x="139.9" y="288.2" font-family="Liberation Serif" font-size="10.9" text-anchor="middle" fill="#1a1a1a">100 <tspan font-style="italic">pA</tspan></text>
<text x="175.7" y="288.2" font-family="Liberation Serif" font-size="10.9" text-anchor="middle" fill="#1a1a1a">1 <tspan font-style="italic">nA</tspan></text>
<text x="127" y="302.7" font-family="Liberation Serif" font-size="15.5" fill="#000">I<tspan font-size="10.5" dy="3" font-weight="bold">OFF,P</tspan></text>
<text x="-0.5" y="372.1" font-family="Liberation Sans" font-size="20" text-anchor="start" fill="#000" font-weight="bold">d</text>
<text x="69.2" y="358.6" font-family="Liberation Sans" font-size="15.2" text-anchor="start" fill="#a23c9f">Fastest CMOS Inverter</text>
<line x1="144" y1="418.9" x2="144" y2="401.4" stroke="#000" stroke-width="2"/>
<path d="M144,396.4 L141,402.7 L147,402.7 Z" fill="#000"/>
<line x1="123.9" y1="418.9" x2="144" y2="418.9" stroke="#000" stroke-width="2" stroke-linecap="square"/>
<line x1="123.9" y1="439" x2="144" y2="439" stroke="#000" stroke-width="2" stroke-linecap="square"/>
<line x1="123.9" y1="418.9" x2="123.9" y2="439" stroke="#000" stroke-width="2" stroke-linecap="square"/>
<line x1="120" y1="419.7" x2="120" y2="438.8" stroke="#000" stroke-width="2"/>
<circle cx="115.7" cy="429" r="3.3" fill="#fff" stroke="#000" stroke-width="1.7"/>
<line x1="98.8" y1="429" x2="112.4" y2="429" stroke="#000" stroke-width="2"/>
<text x="130.2" y="433.2" font-family="Liberation Sans" font-size="13" fill="#000">M<tspan font-size="9.5" dy="3">3</tspan></text>
<line x1="123.9" y1="480.9" x2="144" y2="480.9" stroke="#000" stroke-width="2" stroke-linecap="square"/>
<line x1="123.9" y1="501.4" x2="144" y2="501.4" stroke="#000" stroke-width="2" stroke-linecap="square"/>
<line x1="123.9" y1="480.9" x2="123.9" y2="501.4" stroke="#000" stroke-width="2" stroke-linecap="square"/>
<line x1="120" y1="481.7" x2="120" y2="501.2" stroke="#000" stroke-width="2"/>
<line x1="98.8" y1="492.2" x2="120" y2="492.2" stroke="#000" stroke-width="2"/>
<text x="130.2" y="496.4" font-family="Liberation Sans" font-size="13" fill="#000">M<tspan font-size="9.5" dy="3">2</tspan></text>
<line x1="98.8" y1="429" x2="98.8" y2="492.2" stroke="#000" stroke-width="2" stroke-linecap="square"/>
<line x1="144" y1="439" x2="144" y2="480.9" stroke="#000" stroke-width="2" stroke-linecap="square"/>
<line x1="77.3" y1="462" x2="98.8" y2="462" stroke="#000" stroke-width="2" stroke-linecap="square"/>
<circle cx="77.3" cy="462" r="2.6" fill="#000"/>
<line x1="144" y1="454.6" x2="169.3" y2="454.6" stroke="#000" stroke-width="2" stroke-linecap="square"/>
<line x1="169.3" y1="454.6" x2="169.3" y2="474.6" stroke="#000" stroke-width="2" stroke-linecap="square"/>
<line x1="160.1" y1="474.6" x2="178.5" y2="474.6" stroke="#000" stroke-width="2"/>
<line x1="160.1" y1="480.9" x2="178.5" y2="480.9" stroke="#000" stroke-width="2"/>
<line x1="169.3" y1="480.9" x2="169.3" y2="508" stroke="#000" stroke-width="2" stroke-linecap="square"/>
<line x1="169.3" y1="508" x2="144" y2="508" stroke="#000" stroke-width="2" stroke-linecap="square"/>
<line x1="144" y1="501.4" x2="144" y2="521.1" stroke="#000" stroke-width="2" stroke-linecap="square"/>
<line x1="133.9" y1="521.1" x2="154.1" y2="521.1" stroke="#000" stroke-width="2"/>
<line x1="137.7" y1="525.4" x2="150.3" y2="525.4" stroke="#000" stroke-width="2"/>
<line x1="141.4" y1="529.7" x2="146.6" y2="529.7" stroke="#000" stroke-width="2"/>
<text x="138.6" y="392.6" font-family="Liberation Sans" font-size="13" fill="#000" text-anchor="start">V<tspan font-size="9.36" dy="3">DD</tspan></text>
<text x="172.4" y="459.8" font-family="Liberation Sans" font-size="13" fill="#000" text-anchor="start">V<tspan font-size="9.36" dy="3">OUT</tspan></text>
<text x="185.6" y="483.5" font-family="Liberation Sans" font-size="13" fill="#000" text-anchor="start">C<tspan font-size="9.36" dy="3">L</tspan></text>
<text x="51.5" y="473" font-family="Liberation Sans" font-size="13" fill="#000" text-anchor="start">V<tspan font-size="9.36" dy="3">IN</tspan></text>
<text x="157.7" y="418.8" font-family="Liberation Sans" font-size="13.4" fill="#45afe4">Low V<tspan font-size="9.6" dy="3">th</tspan><tspan x="157.7" y="435.5">WSe</tspan><tspan font-size="9.6" dy="3">2</tspan></text>
<text x="65.5" y="513.8" font-family="Liberation Sans" font-size="13.4" fill="#45afe4">Low V<tspan font-size="9.6" dy="3">th</tspan><tspan x="65.5" y="530.3">MoS</tspan><tspan font-size="9.6" dy="3">2</tspan></text>
<text x="288.3" y="343.6" font-family="Liberation Sans" font-size="15.2" text-anchor="start" fill="#a23c9f">Power gated CMOS</text>
<text x="330" y="362.4" font-family="Liberation Sans" font-size="15.2" text-anchor="start" fill="#a23c9f">Inverter</text>
<line x1="353.9" y1="403.4" x2="353.9" y2="387.6" stroke="#000" stroke-width="2"/>
<path d="M353.9,382.6 L350.9,388.9 L356.9,388.9 Z" fill="#000"/>
<line x1="334.3" y1="403.4" x2="353.9" y2="403.4" stroke="#000" stroke-width="2" stroke-linecap="square"/>
<line x1="334.3" y1="423.7" x2="353.9" y2="423.7" stroke="#000" stroke-width="2" stroke-linecap="square"/>
<line x1="334.3" y1="403.4" x2="334.3" y2="423.7" stroke="#000" stroke-width="2" stroke-linecap="square"/>
<line x1="330.2" y1="404.2" x2="330.2" y2="423.5" stroke="#000" stroke-width="2"/>
<circle cx="325.9" cy="413.6" r="3.3" fill="#fff" stroke="#000" stroke-width="1.7"/>
<line x1="308.7" y1="413.6" x2="322.6" y2="413.6" stroke="#000" stroke-width="2"/>
<text x="340.6" y="417.8" font-family="Liberation Sans" font-size="13" fill="#000">M<tspan font-size="9.5" dy="3">4</tspan></text>
<line x1="334.3" y1="443.4" x2="353.9" y2="443.4" stroke="#000" stroke-width="2" stroke-linecap="square"/>
<line x1="334.3" y1="463.1" x2="353.9" y2="463.1" stroke="#000" stroke-width="2" stroke-linecap="square"/>
<line x1="334.3" y1="443.4" x2="334.3" y2="463.1" stroke="#000" stroke-width="2" stroke-linecap="square"/>
<line x1="330.2" y1="444.2" x2="330.2" y2="462.9" stroke="#000" stroke-width="2"/>
<circle cx="325.9" cy="453.7" r="3.3" fill="#fff" stroke="#000" stroke-width="1.7"/>
<line x1="309.3" y1="453.7" x2="322.6" y2="453.7" stroke="#000" stroke-width="2"/>
<text x="340.6" y="457.9" font-family="Liberation Sans" font-size="13" fill="#000">M<tspan font-size="9.5" dy="3">3</tspan></text>
<line x1="334.3" y1="505.5" x2="353.9" y2="505.5" stroke="#000" stroke-width="2" stroke-linecap="square"/>
<line x1="334.3" y1="525.7" x2="353.9" y2="525.7" stroke="#000" stroke-width="2" stroke-linecap="square"/>
<line x1="334.3" y1="505.5" x2="334.3" y2="525.7" stroke="#000" stroke-width="2" stroke-linecap="square"/>
<line x1="330.2" y1="506.3" x2="330.2" y2="525.5" stroke="#000" stroke-width="2"/>
<line x1="309.3" y1="517" x2="330.2" y2="517" stroke="#000" stroke-width="2"/>
<text x="340.6" y="521.2" font-family="Liberation Sans" font-size="13" fill="#000">M<tspan font-size="9.5" dy="3">2</tspan></text>
<line x1="334.3" y1="545.4" x2="353.9" y2="545.4" stroke="#000" stroke-width="2" stroke-linecap="square"/>
<line x1="334.3" y1="565.8" x2="353.9" y2="565.8" stroke="#000" stroke-width="2" stroke-linecap="square"/>
<line x1="334.3" y1="545.4" x2="334.3" y2="565.8" stroke="#000" stroke-width="2" stroke-linecap="square"/>
<line x1="330.2" y1="546.2" x2="330.2" y2="565.6" stroke="#000" stroke-width="2"/>
<line x1="309.1" y1="556.4" x2="330.2" y2="556.4" stroke="#000" stroke-width="2"/>
<text x="340.6" y="560.6" font-family="Liberation Sans" font-size="13" fill="#000">M<tspan font-size="9.5" dy="3">1</tspan></text>
<line x1="309.3" y1="453.7" x2="309.3" y2="517" stroke="#000" stroke-width="2" stroke-linecap="square"/>
<line x1="353.9" y1="423.7" x2="353.9" y2="443.4" stroke="#000" stroke-width="2" stroke-linecap="square"/>
<line x1="353.9" y1="463.1" x2="353.9" y2="505.5" stroke="#000" stroke-width="2" stroke-linecap="square"/>
<line x1="353.9" y1="525.7" x2="353.9" y2="545.4" stroke="#000" stroke-width="2" stroke-linecap="square"/>
<line x1="353.9" y1="565.8" x2="353.9" y2="585.3" stroke="#000" stroke-width="2" stroke-linecap="square"/>
<line x1="287.7" y1="486.3" x2="309.3" y2="486.3" stroke="#000" stroke-width="2" stroke-linecap="square"/>
<circle cx="287.7" cy="486.3" r="2.6" fill="#000"/>
<line x1="353.9" y1="479.3" x2="381" y2="479.3" stroke="#000" stroke-width="2" stroke-linecap="square"/>
<line x1="381" y1="479.3" x2="381" y2="499.4" stroke="#000" stroke-width="2" stroke-linecap="square"/>
<line x1="371.15" y1="499.4" x2="390.85" y2="499.4" stroke="#000" stroke-width="2"/>
<line x1="371.15" y1="505.5" x2="390.85" y2="505.5" stroke="#000" stroke-width="2"/>
<line x1="381" y1="505.5" x2="381" y2="570.6" stroke="#000" stroke-width="2" stroke-linecap="square"/>
<line x1="381" y1="570.6" x2="353.9" y2="570.6" stroke="#000" stroke-width="2" stroke-linecap="square"/>
<line x1="344.35" y1="585.3" x2="363.45" y2="585.3" stroke="#000" stroke-width="2"/>
<line x1="348.1" y1="589.6" x2="359.7" y2="589.6" stroke="#000" stroke-width="2"/>
<line x1="351.75" y1="593.9" x2="356.05" y2="593.9" stroke="#000" stroke-width="2"/>
<text x="348.3" y="377.2" font-family="Liberation Sans" font-size="13" fill="#000" text-anchor="start">V<tspan font-size="9.36" dy="3">DD</tspan></text>
<text x="382.8" y="484.6" font-family="Liberation Sans" font-size="13" fill="#000" text-anchor="start">V<tspan font-size="9.36" dy="3">OUT</tspan></text>
<text x="394.6" y="507.5" font-family="Liberation Sans" font-size="13" fill="#000" text-anchor="start">C<tspan font-size="9.36" dy="3">L</tspan></text>
<text x="261.7" y="496.5" font-family="Liberation Sans" font-size="13" fill="#000" text-anchor="start">V<tspan font-size="9.36" dy="3">IN</tspan></text>
<text x="272.8" y="420.3" font-family="Liberation Serif" font-size="13.4" fill="#000">V<tspan font-size="9.6" dy="2.6">sleep</tspan></text>
<line x1="273" y1="408.6" x2="301.5" y2="408.6" stroke="#000" stroke-width="0.9"/>
<text x="275.6" y="558.6" font-family="Liberation Serif" font-size="13.4" fill="#000">V<tspan font-size="9.6" dy="2.6">sleep</tspan></text>
<text x="374.8" y="405.9" font-family="Liberation Sans" font-size="13.4" fill="#7b3db5">High V<tspan font-size="9.6" dy="3">th</tspan><tspan x="374.8" y="421.7">WSe</tspan><tspan font-size="9.6" dy="3">2</tspan></text>
<text x="376" y="446.3" font-family="Liberation Sans" font-size="13.4" fill="#45afe4">Low V<tspan font-size="9.6" dy="3">th</tspan><tspan x="376" y="462">WSe</tspan><tspan font-size="9.6" dy="3">2</tspan></text>
<text x="257.7" y="519.3" font-family="Liberation Sans" font-size="13.4" fill="#45afe4">Low V<tspan font-size="9.6" dy="3">th</tspan><tspan x="257.7" y="535.2">MoS</tspan><tspan font-size="9.6" dy="3">2</tspan></text>
<text x="277.4" y="581.8" font-family="Liberation Sans" font-size="13.4" fill="#7b3db5">High V<tspan font-size="9.6" dy="3">th</tspan><tspan x="277.4" y="597.2">MoS</tspan><tspan font-size="9.6" dy="3">2</tspan></text>
<text x="487" y="349.7" font-family="Liberation Sans" font-size="15.2" fill="#a23c9f">V<tspan font-size="10.9" dy="3.5">th</tspan><tspan dy="-3.5"> tuned CMOS Inverter</tspan></text>
<line x1="563.1" y1="415.9" x2="563.1" y2="399.4" stroke="#000" stroke-width="2"/>
<path d="M563.1,394.4 L560.1,400.7 L566.1,400.7 Z" fill="#000"/>
<line x1="543.6" y1="415.9" x2="563.1" y2="415.9" stroke="#000" stroke-width="2" stroke-linecap="square"/>
<line x1="543.6" y1="436.7" x2="563.1" y2="436.7" stroke="#000" stroke-width="2" stroke-linecap="square"/>
<line x1="543.6" y1="415.9" x2="543.6" y2="436.7" stroke="#000" stroke-width="2" stroke-linecap="square"/>
<line x1="539.4" y1="416.7" x2="539.4" y2="436.5" stroke="#000" stroke-width="2"/>
<circle cx="535.1" cy="426.7" r="3.3" fill="#fff" stroke="#000" stroke-width="1.7"/>
<line x1="518.3" y1="426.7" x2="531.8" y2="426.7" stroke="#000" stroke-width="2"/>
<text x="549.9" y="430.9" font-family="Liberation Sans" font-size="13" fill="#000">M<tspan font-size="9.5" dy="3">3</tspan></text>
<line x1="543.6" y1="478.5" x2="563.1" y2="478.5" stroke="#000" stroke-width="2" stroke-linecap="square"/>
<line x1="543.6" y1="498.7" x2="563.1" y2="498.7" stroke="#000" stroke-width="2" stroke-linecap="square"/>
<line x1="543.6" y1="478.5" x2="543.6" y2="498.7" stroke="#000" stroke-width="2" stroke-linecap="square"/>
<line x1="539.4" y1="479.3" x2="539.4" y2="498.5" stroke="#000" stroke-width="2"/>
<line x1="518.3" y1="489.8" x2="539.4" y2="489.8" stroke="#000" stroke-width="2"/>
<text x="549.9" y="494" font-family="Liberation Sans" font-size="13" fill="#000">M<tspan font-size="9.5" dy="3">2</tspan></text>
<line x1="518.3" y1="426.7" x2="518.3" y2="489.8" stroke="#000" stroke-width="2" stroke-linecap="square"/>
<line x1="563.1" y1="436.7" x2="563.1" y2="478.5" stroke="#000" stroke-width="2" stroke-linecap="square"/>
<line x1="563.1" y1="498.7" x2="563.1" y2="518.7" stroke="#000" stroke-width="2" stroke-linecap="square"/>
<line x1="496.8" y1="459.3" x2="518.3" y2="459.3" stroke="#000" stroke-width="2" stroke-linecap="square"/>
<circle cx="496.8" cy="459.3" r="2.6" fill="#000"/>
<line x1="563.1" y1="452.2" x2="588.8" y2="452.2" stroke="#000" stroke-width="2" stroke-linecap="square"/>
<line x1="588.8" y1="452.2" x2="588.8" y2="472.7" stroke="#000" stroke-width="2" stroke-linecap="square"/>
<line x1="579.25" y1="472.7" x2="598.35" y2="472.7" stroke="#000" stroke-width="2"/>
<line x1="579.25" y1="479.3" x2="598.35" y2="479.3" stroke="#000" stroke-width="2"/>
<line x1="588.8" y1="479.3" x2="588.8" y2="506" stroke="#000" stroke-width="2" stroke-linecap="square"/>
<line x1="588.8" y1="506" x2="563.1" y2="506" stroke="#000" stroke-width="2" stroke-linecap="square"/>
<line x1="553.5" y1="518.7" x2="572.7" y2="518.7" stroke="#000" stroke-width="2"/>
<line x1="557.05" y1="523" x2="569.15" y2="523" stroke="#000" stroke-width="2"/>
<line x1="560.5" y1="527.3" x2="565.7" y2="527.3" stroke="#000" stroke-width="2"/>
<text x="557.2" y="390.6" font-family="Liberation Sans" font-size="13" fill="#000" text-anchor="start">V<tspan font-size="9.36" dy="3">DD</tspan></text>
<text x="591.2" y="457.5" font-family="Liberation Sans" font-size="13" fill="#000" text-anchor="start">V<tspan font-size="9.36" dy="3">OUT</tspan></text>
<text x="603" y="481.7" font-family="Liberation Sans" font-size="13" fill="#000" text-anchor="start">C<tspan font-size="9.36" dy="3">L</tspan></text>
<text x="475.6" y="472.5" font-family="Liberation Sans" font-size="13" fill="#000" text-anchor="start">V<tspan font-size="9.36" dy="3">IN</tspan></text>
<text x="581.4" y="414.5" font-family="Liberation Sans" font-size="13.4" fill="#7b3db5"><tspan fill="#45afe4">Low/</tspan> High<tspan x="581.4" y="431.4">V</tspan><tspan font-size="9.6" dy="3">th</tspan><tspan dy="-3"> WSe</tspan><tspan font-size="9.6" dy="3">2</tspan></text>
<text x="471.8" y="510" font-family="Liberation Sans" font-size="13.4" fill="#7b3db5"><tspan fill="#45afe4">Low/</tspan> High<tspan x="475.2" y="527.3">V</tspan><tspan font-size="9.6" dy="3">th</tspan><tspan dy="-3"> MoS</tspan><tspan font-size="9.6" dy="3">2</tspan></text>
<text x="2.3" y="588.8" font-family="Liberation Sans" font-size="20" text-anchor="start" fill="#000" font-weight="bold">e</text>
<text x="73.2" y="828.9" font-family="Liberation Sans" font-size="15.7" text-anchor="end" fill="#262626">0</text>
<text x="73.2" y="787.08" font-family="Liberation Sans" font-size="15.7" text-anchor="end" fill="#262626">500</text>
<line x1="79.7" y1="781.58" x2="82.5" y2="781.58" stroke="#262626" stroke-width="1"/>
<line x1="325.5" y1="781.58" x2="322.7" y2="781.58" stroke="#262626" stroke-width="1"/>
<text x="73.2" y="745.26" font-family="Liberation Sans" font-size="15.7" text-anchor="end" fill="#262626">1000</text>
<line x1="79.7" y1="739.76" x2="82.5" y2="739.76" stroke="#262626" stroke-width="1"/>
<line x1="325.5" y1="739.76" x2="322.7" y2="739.76" stroke="#262626" stroke-width="1"/>
<text x="73.2" y="703.44" font-family="Liberation Sans" font-size="15.7" text-anchor="end" fill="#262626">1500</text>
<line x1="79.7" y1="697.94" x2="82.5" y2="697.94" stroke="#262626" stroke-width="1"/>
<line x1="325.5" y1="697.94" x2="322.7" y2="697.94" stroke="#262626" stroke-width="1"/>
<text x="73.2" y="661.62" font-family="Liberation Sans" font-size="15.7" text-anchor="end" fill="#262626">2000</text>
<line x1="79.7" y1="656.12" x2="82.5" y2="656.12" stroke="#262626" stroke-width="1"/>
<line x1="325.5" y1="656.12" x2="322.7" y2="656.12" stroke="#262626" stroke-width="1"/>
<text x="73.2" y="619.8" font-family="Liberation Sans" font-size="15.7" text-anchor="end" fill="#262626">2500</text>
<text x="146.45" y="647" font-family="Liberation Sans" font-size="15.6" text-anchor="middle" fill="#000">2T</text>
<rect x="124.3" y="652.77" width="44.8" height="170.63" fill="#4567f8" stroke="#505050" stroke-width="0.9"/>
<line x1="146.7" y1="823.4" x2="146.7" y2="820.6" stroke="#262626" stroke-width="1"/>
<line x1="146.7" y1="614.3" x2="146.7" y2="617.1" stroke="#262626" stroke-width="1"/>
<text x="202.1" y="819.1" font-family="Liberation Sans" font-size="15.6" text-anchor="middle" fill="#000">4T</text>
<rect x="180.4" y="822.4" width="44.6" height="1" fill="#3e8f5a" stroke="#2f6f4a" stroke-width="0.9"/>
<line x1="202.7" y1="823.4" x2="202.7" y2="820.6" stroke="#262626" stroke-width="1"/>
<line x1="202.7" y1="614.3" x2="202.7" y2="617.1" stroke="#262626" stroke-width="1"/>
<text x="256.6" y="818.1" font-family="Liberation Sans" font-size="15.6" text-anchor="middle" fill="#000">2T</text>
<rect x="236.3" y="822.15" width="44.6" height="1.25" fill="#c9c636" stroke="#8f8c30" stroke-width="0.9"/>
<line x1="258.6" y1="823.4" x2="258.6" y2="820.6" stroke="#262626" stroke-width="1"/>
<line x1="258.6" y1="614.3" x2="258.6" y2="617.1" stroke="#262626" stroke-width="1"/>
<rect x="79.7" y="614.3" width="245.8" height="209.1" fill="none" stroke="#262626" stroke-width="1.1"/>
<text transform="translate(23.2,716) rotate(-90)" font-family="Liberation Sans" font-size="17.5" text-anchor="middle" fill="#262626">P<tspan font-size="14.6" dy="8.5">static</tspan><tspan dy="-8.5"> (pW)</tspan></text>
<text x="387.3" y="828.7" font-family="Liberation Sans" font-size="14.3" text-anchor="end" fill="#262626">0</text>
<text x="387.3" y="775.7" font-family="Liberation Sans" font-size="14.3" text-anchor="end" fill="#262626">50</text>
<line x1="392.4" y1="770.2" x2="395.2" y2="770.2" stroke="#262626" stroke-width="1"/>
<line x1="637.9" y1="770.2" x2="635.1" y2="770.2" stroke="#262626" stroke-width="1"/>
<text x="387.3" y="722.7" font-family="Liberation Sans" font-size="14.3" text-anchor="end" fill="#262626">100</text>
<line x1="392.4" y1="717.2" x2="395.2" y2="717.2" stroke="#262626" stroke-width="1"/>
<line x1="637.9" y1="717.2" x2="635.1" y2="717.2" stroke="#262626" stroke-width="1"/>
<text x="387.3" y="669.7" font-family="Liberation Sans" font-size="14.3" text-anchor="end" fill="#262626">150</text>
<line x1="392.4" y1="664.2" x2="395.2" y2="664.2" stroke="#262626" stroke-width="1"/>
<line x1="637.9" y1="664.2" x2="635.1" y2="664.2" stroke="#262626" stroke-width="1"/>
<text x="387.3" y="616.7" font-family="Liberation Sans" font-size="14.3" text-anchor="end" fill="#262626">200</text>
<text x="458.7" y="779" font-family="Liberation Sans" font-size="15.6" text-anchor="middle" fill="#000">2T</text>
<rect x="436.8" y="786.1" width="44.7" height="37.1" fill="#4567f8" stroke="#505050" stroke-width="0.9"/>
<line x1="459.15" y1="823.2" x2="459.15" y2="820.4" stroke="#262626" stroke-width="1"/>
<line x1="459.15" y1="611.2" x2="459.15" y2="614" stroke="#262626" stroke-width="1"/>
<text x="513.2" y="629.6" font-family="Liberation Sans" font-size="15.6" text-anchor="middle" fill="#000">4T</text>
<rect x="492.9" y="633.46" width="44.7" height="189.74" fill="#4aca88" stroke="#505050" stroke-width="0.9"/>
<line x1="515.25" y1="823.2" x2="515.25" y2="820.4" stroke="#262626" stroke-width="1"/>
<line x1="515.25" y1="611.2" x2="515.25" y2="614" stroke="#262626" stroke-width="1"/>
<text x="570.3" y="754" font-family="Liberation Sans" font-size="15.6" text-anchor="middle" fill="#000">2T</text>
<rect x="548.5" y="757.48" width="44.7" height="65.72" fill="#f9f90f" stroke="#505050" stroke-width="0.9"/>
<line x1="570.85" y1="823.2" x2="570.85" y2="820.4" stroke="#262626" stroke-width="1"/>
<line x1="570.85" y1="611.2" x2="570.85" y2="614" stroke="#262626" stroke-width="1"/>
<rect x="392.4" y="611.2" width="245.5" height="212" fill="none" stroke="#262626" stroke-width="1.1"/>
<text transform="translate(358.7,717.3) rotate(-90)" font-family="Liberation Sans" font-size="15.5" text-anchor="middle" fill="#262626">Delay (ns)</text>
<text x="139.5" y="840.2" font-family="Liberation Sans" font-size="13.6" text-anchor="middle" fill="#000">Fastest</text>
<text x="139.5" y="856.25" font-family="Liberation Sans" font-size="13.6" text-anchor="middle" fill="#000">CMOS</text>
<text x="139.5" y="872.3" font-family="Liberation Sans" font-size="13.6" text-anchor="middle" fill="#000">Inverter</text>
<text x="206.4" y="840.2" font-family="Liberation Sans" font-size="13.6" text-anchor="middle" fill="#000">Power</text>
<text x="206.4" y="856.25" font-family="Liberation Sans" font-size="13.6" text-anchor="middle" fill="#000">gated CMOS</text>
<text x="206.4" y="872.3" font-family="Liberation Sans" font-size="13.6" text-anchor="middle" fill="#000">Inverter</text>
<text x="274.3" y="840.2" font-family="Liberation Sans" font-size="13.6" text-anchor="middle" fill="#000">V<tspan font-size="9.8" dy="3">th</tspan><tspan dy="-3"> tuned</tspan></text>
<text x="274.3" y="856.25" font-family="Liberation Sans" font-size="13.6" text-anchor="middle" fill="#000">CMOS</text>
<text x="274.3" y="872.3" font-family="Liberation Sans" font-size="13.6" text-anchor="middle" fill="#000">Inverter</text>
<text x="457.1" y="838.6" font-family="Liberation Sans" font-size="13.6" text-anchor="middle" fill="#000">Fastest</text>
<text x="457.1" y="855.05" font-family="Liberation Sans" font-size="13.6" text-anchor="middle" fill="#000">CMOS</text>
<text x="457.1" y="871.5" font-family="Liberation Sans" font-size="13.6" text-anchor="middle" fill="#000">Inverter</text>
<text x="523.6" y="838.6" font-family="Liberation Sans" font-size="13.6" text-anchor="middle" fill="#000">Power</text>
<text x="523.6" y="855.05" font-family="Liberation Sans" font-size="13.6" text-anchor="middle" fill="#000">gated CMOS</text>
<text x="523.6" y="871.5" font-family="Liberation Sans" font-size="13.6" text-anchor="middle" fill="#000">Inverter</text>
<text x="591.5" y="838.6" font-family="Liberation Sans" font-size="13.6" text-anchor="middle" fill="#000">V<tspan font-size="9.8" dy="3">th</tspan><tspan dy="-3"> tuned</tspan></text>
<text x="591.5" y="855.05" font-family="Liberation Sans" font-size="13.6" text-anchor="middle" fill="#000">CMOS</text>
<text x="591.5" y="871.5" font-family="Liberation Sans" font-size="13.6" text-anchor="middle" fill="#000">Inverter</text></svg></body></html>
